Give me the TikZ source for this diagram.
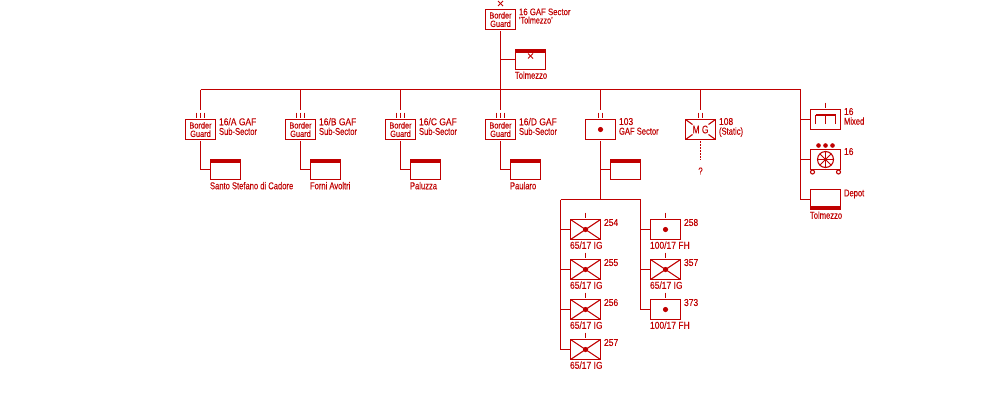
\documentclass[tikz,border=0pt]{standalone}
\usepackage{fontspec}
\setmainfont[FakeStretch=0.76,FakeBold=0.15]{Liberation Sans}
\newfontfamily\numf[FakeStretch=0.85,FakeBold=0.15]{Liberation Sans}
\newfontfamily\bgf[FakeStretch=0.82,FakeBold=0.15]{Liberation Sans}
\definecolor{rd}{HTML}{C00000}
\tikzset{
  x=1pt,y=-1pt,
  ln/.style={draw=rd,line width=1.1pt},
  ubox/.style={draw=rd,line width=1.1pt,fill=white,rectangle,minimum width=30pt,minimum height=20pt,inner sep=0pt,outer sep=0pt,text=rd,align=center,font=\fontsize{9}{8.4}\selectfont\bgf},
  lab/.style={text=rd,inner sep=0pt,outer sep=0pt,align=left,anchor=north west,font=\fontsize{10}{9.7}\selectfont},
  labtight/.style={lab,font=\fontsize{9.5}{8.4}\selectfont},
}
\newcommand{\bbar}[1]{\fill[rd] (#1.north west) rectangle ([yshift=-3.5pt]#1.north east);}
\newcommand{\tkone}[1]{\draw[ln] ([yshift=7pt]#1.north) -- ([yshift=2pt]#1.north);}
\newcommand{\tktwo}[1]{\draw[ln] ([shift={(-2pt,7pt)}]#1.north) -- ([shift={(-2pt,2pt)}]#1.north);\draw[ln] ([shift={(2pt,7pt)}]#1.north) -- ([shift={(2pt,2pt)}]#1.north);}
\newcommand{\tkthree}[1]{\tkone{#1}\draw[ln] ([shift={(-4pt,7pt)}]#1.north) -- ([shift={(-4pt,2pt)}]#1.north);\draw[ln] ([shift={(4pt,7pt)}]#1.north) -- ([shift={(4pt,2pt)}]#1.north);}
\newcommand{\ctrdot}[1]{\fill[rd] (#1.center) circle[radius=2.6pt];}
\newcommand{\infx}[1]{\draw[ln] (#1.north west) -- (#1.south east);\draw[ln] (#1.north east) -- (#1.south west);\ctrdot{#1}\tkone{#1}}
\newcommand{\subsec}[4]{%
  \node[ubox] (#1) at (#2,129.5) {Border\\Guard};
  \node[lab] (#1l) at (#2+18.5,118) {#3};
  \tkthree{#1}
  \draw[ln] (#1.north |- bus) -- ([yshift=9.5pt]#1.north);
  \node[ubox] (#1q) at (#2+25,169.5) {};
  \bbar{#1q}
  \draw[ln] ([yshift=-1.5pt]#1.south) |- (#1q.west);
  \node[lab] (#1c) at (#2+9.5,182) {#4};
}
\newcommand{\unitx}[6]{% name, x, y, number, caption, kind
  \node[ubox] (#1) at (#2,#3) {};
  #6{#1}
  \node[lab] (#1n) at (#2+18.5,#3-10.5) {\numf #4};
  \node[lab] (#1c) at (#2-15.5,#3+12) {\numf #5};
}
\begin{document}
\begin{tikzpicture}
\useasboundingbox (0,0) rectangle (1000,400);
\fill[white] (0,0) rectangle (1000,400);
\coordinate (bus) at (200.5,89.5);
\coordinate (busr) at (800.5,89.5);
\draw[ln] (bus) -- (busr);
% top
\node[ubox] (top) at (500.5,19.5) {Border\\Guard};
\node[labtight] (topl) at (519,8.5) {\bgf 16 GAF Sector\\'Tolmezzo'};
\draw[ln,line width=.8pt] ([shift={(-2.5pt,8.5pt)}]top.north) -- ([shift={(2.5pt,3.5pt)}]top.north);
\draw[ln,line width=.8pt] ([shift={(2.5pt,8.5pt)}]top.north) -- ([shift={(-2.5pt,3.5pt)}]top.north);
\node[ubox] (topq) at (530.5,59.5) {};
\bbar{topq}
\draw[ln,line width=.8pt] ([shift={(-2.5pt,6pt)}]topq.center) -- ([shift={(2.5pt,1pt)}]topq.center);
\draw[ln,line width=.8pt] ([shift={(2.5pt,6pt)}]topq.center) -- ([shift={(-2.5pt,1pt)}]topq.center);
\node[lab] (topc) at (515,71.5) {Tolmezzo};
\draw[ln] ([yshift=-1.5pt]top.south) -- (top.south |- bus);
\draw[ln] (top.south |- topq.west) -- (topq.west);
% sub sectors
\subsec{a}{200.5}{\numf 16/A GAF\\Sub-Sector}{Santo Stefano di Cadore}
\subsec{b}{300.5}{\numf 16/B GAF\\Sub-Sector}{Forni Avoltri}
\subsec{c}{400.5}{\numf 16/C GAF\\Sub-Sector}{Paluzza}
\subsec{d}{500.5}{\numf 16/D GAF\\Sub-Sector}{Paularo}
% 103
\node[ubox] (gs) at (600.5,129.5) {};
\ctrdot{gs}
\tktwo{gs}
\node[lab] (gsl) at (619,118) {\numf 103\\GAF Sector};
\draw[ln] (gs.north |- bus) -- ([yshift=9.5pt]gs.north);
\node[ubox] (gsq) at (625.5,169.5) {};
\bbar{gsq}
\coordinate (j) at (600.5,199.5);
\draw[ln] ([yshift=-1.5pt]gs.south) -- (j);
\draw[ln] (gs.south |- gsq.west) -- (gsq.west);
\coordinate (jl) at (560.5,199.5);
\coordinate (jr) at (640.5,199.5);
\draw[ln] (jl) -- (jr);
% 108
\node[ubox,font=\fontsize{11}{11}\selectfont] (mg) at (700.5,129.5) {M G};
\tktwo{mg}
\node[lab] (mgl) at (719,118) {\numf 108\\(Static)};
\draw[ln] (mg.north |- bus) -- ([yshift=9.5pt]mg.north);
\draw[ln] (mg.north west) -- ([shift={(7pt,-5pt)}]mg.north west);
\draw[ln] (mg.north east) -- ([shift={(-7pt,-5pt)}]mg.north east);
\draw[ln] (mg.south west) -- ([shift={(7pt,5pt)}]mg.south west);
\draw[ln] (mg.south east) -- ([shift={(-7pt,5pt)}]mg.south east);
\draw[ln,dash pattern=on 2pt off 1pt] ([yshift=-1.5pt]mg.south) -- ([yshift=-20.5pt]mg.south);
\node[lab,anchor=north] (mgq) at (700.5,167.5) {?};
% lower units
\unitx{u1}{585.5}{229.5}{254}{65/17 IG}{\infx}
\unitx{u2}{585.5}{269.5}{255}{65/17 IG}{\infx}
\unitx{u3}{585.5}{309.5}{256}{65/17 IG}{\infx}
\unitx{u4}{585.5}{349.5}{257}{65/17 IG}{\infx}
\unitx{r1}{665.5}{229.5}{258}{100/17 FH}{\ctrdot}
\tkone{r1}
\unitx{r2}{665.5}{269.5}{357}{65/17 IG}{\infx}
\unitx{r3}{665.5}{309.5}{373}{100/17 FH}{\ctrdot}
\tkone{r3}
\draw[ln] (jl) |- (u4.west);
\draw[ln] (jl |- u1.west) -- (u1.west);
\draw[ln] (jl |- u2.west) -- (u2.west);
\draw[ln] (jl |- u3.west) -- (u3.west);
\draw[ln] (jr) |- (r3.west);
\draw[ln] (jr |- r1.west) -- (r1.west);
\draw[ln] (jr |- r2.west) -- (r2.west);
% right column
\node[ubox] (mx) at (825.5,119.5) {};
\tkone{mx}
\draw[ln] ([shift={(-10pt,-4.5pt)}]mx.center) -- ([shift={(-10pt,4.5pt)}]mx.center);
\draw[ln] ([shift={(10pt,-4.5pt)}]mx.center) -- ([shift={(10pt,4.5pt)}]mx.center);
\draw[ln] ([yshift=-4.5pt]mx.center) -- ([yshift=4.5pt]mx.center);
\draw[ln] ([shift={(-10pt,4.5pt)}]mx.center) -- ([shift={(10pt,4.5pt)}]mx.center);
\node[lab] (mxl) at (844,108) {\numf 16\\Mixed};
\node[ubox] (ar) at (825.5,159.5) {};
\draw[ln] (ar.center) circle[radius=8pt];
\foreach \a in {0,45,...,315} \draw[ln,line width=.8pt] (ar.center) -- ++(\a:8pt);
\foreach \d in {-7,0,7} \fill[rd] ([shift={(\d pt,14pt)}]ar.center) circle[radius=2.3pt];
\draw[ln] ([shift={(-13pt,-12.5pt)}]ar.center) circle[radius=2pt];
\draw[ln] ([shift={(13pt,-12.5pt)}]ar.center) circle[radius=2pt];
\node[lab] (arl) at (844,148) {\numf 16};
\node[ubox] (dp) at (825.5,199.5) {};
\fill[rd] (dp.south west) rectangle ([yshift=3.5pt]dp.south east);
\node[lab] (dpl) at (844,189.5) {Depot};
\node[lab] (dpc) at (810,211.5) {Tolmezzo};
\draw[ln] (busr) |- (dp.west);
\draw[ln] (busr |- mx.west) -- (mx.west);
\draw[ln] (busr |- ar.west) -- (ar.west);
\end{tikzpicture}
\end{document}
